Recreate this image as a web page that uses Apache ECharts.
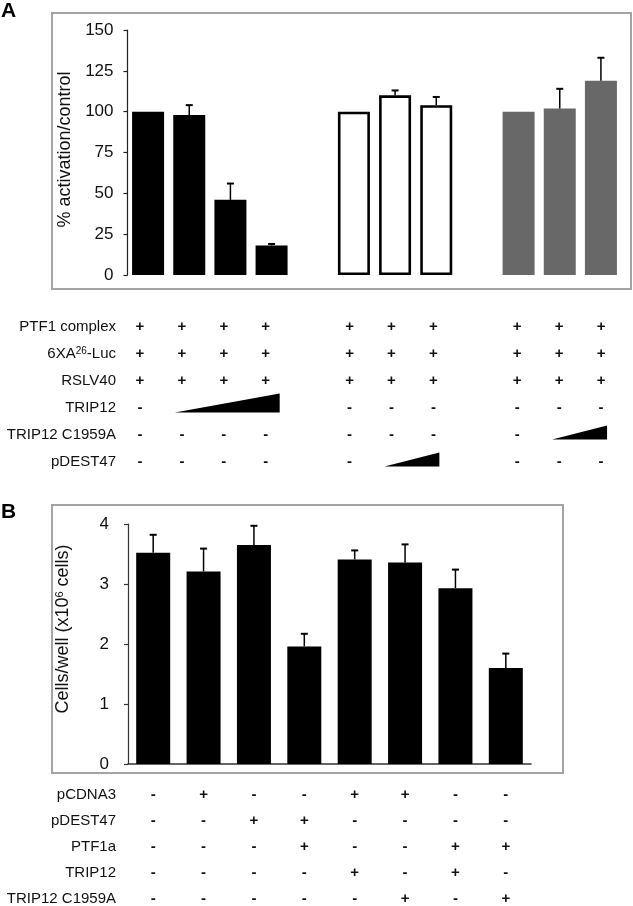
<!DOCTYPE html>
<html><head><meta charset="utf-8">
<script src="https://cdn.jsdelivr.net/npm/echarts@6/dist/echarts.min.js"></script>
<style>html,body{margin:0;padding:0;background:#fff}#c{width:633px;height:906px}</style>
</head><body><div id="c"></div>
<script>
// ---------------- Panel A data ----------------
const aCategories = ['T1','T2','T3','T4','', 'D1','D2','D3',' ', 'C1','C2','C3'];
const aTrip12Keys = ['T1','T2','T3','T4'];
const aTrip12 = [100, 98, 46, 18];
const aTrip12Err = [null, 104, 56, 19];
const aDest47Keys = ['D1','D2','D3'];
const aDest47 = [100, 110, 104];
const aDest47Err = [null, 113, 109];
const aC1959Keys = ['C1','C2','C3'];
const aC1959 = [100, 102, 119];
const aC1959Err = [null, 114, 133];
const aYMin = 0, aYMax = 150, aYStep = 25;
const aYName = '% activation/control';

const aRowNames = ['PTF1 complex', '6XA26-Luc', 'RSLV40', 'TRIP12', 'TRIP12 C1959A', 'pDEST47'];
const aRowPTF1    = ['+','+','+','+','', '+','+','+','', '+','+','+'];
const aRowLuc     = ['+','+','+','+','', '+','+','+','', '+','+','+'];
const aRowRSLV40  = ['+','+','+','+','', '+','+','+','', '+','+','+'];
const aRowTRIP12  = ['-','','','','', '-','-','-','', '-','-','-'];
const aRowC1959A  = ['-','-','-','-','', '-','-','-','', '-','',''];
const aRowDEST47  = ['-','-','-','-','', '-','','','', '-','-','-'];
const aWedgeRows  = ['TRIP12', 'pDEST47', 'TRIP12 C1959A'];
const aWedgeFrom  = ['T2', 'D2', 'C2'];
const aWedgeTo    = ['T4', 'D3', 'C3'];

// ---------------- Panel B data ----------------
const bCategories = ['1','2','3','4','5','6','7','8'];
const bValues = [3.52, 3.21, 3.65, 1.96, 3.41, 3.36, 2.93, 1.60];
const bErr    = [3.82, 3.59, 3.97, 2.17, 3.56, 3.66, 3.24, 1.84];
const bYMin = 0, bYMax = 4, bYStep = 1;
const bRowNames = ['pCDNA3', 'pDEST47', 'PTF1a', 'TRIP12', 'TRIP12 C1959A'];
const bRowPCDNA3 = ['-','+','-','-','+','+','-','-'];
const bRowDEST47 = ['-','-','+','+','-','-','-','-'];
const bRowPTF1a  = ['-','-','-','+','-','-','+','+'];
const bRowTRIP12 = ['-','-','-','-','+','-','+','-'];
const bRowC1959A = ['-','-','-','-','-','+','-','+'];

// ---------------- build ----------------
const FONT = '"Liberation Sans", Arial, sans-serif';
function place(keys, vals) {
  return aCategories.map(c => { const i = keys.indexOf(c); return i >= 0 ? vals[i] : null; });
}
function errData(keys, vals, errs) {
  const out = [];
  keys.forEach((k, i) => { if (errs[i] != null) out.push([aCategories.indexOf(k), vals[i], errs[i]]); });
  return out;
}
const aErrAll = [].concat(errData(aTrip12Keys, aTrip12, aTrip12Err),
                          errData(aDest47Keys, aDest47, aDest47Err),
                          errData(aC1959Keys, aC1959, aC1959Err));
const bErrAll = bValues.map((v, i) => [i, v, bErr[i]]);

const aRows = [aRowPTF1, aRowLuc, aRowRSLV40, aRowTRIP12, aRowC1959A, aRowDEST47];
const aCells = [];
aRows.forEach((row, r) => row.forEach((s, c) => { if (s) aCells.push([c, r, s]); }));
const bRows = [bRowPCDNA3, bRowDEST47, bRowPTF1a, bRowTRIP12, bRowC1959A];
const bCells = [];
bRows.forEach((row, r) => row.forEach((s, c) => { if (s) bCells.push([c, r, s]); }));
const wedges = aWedgeRows.map((rn, i) => [aCategories.indexOf(aWedgeFrom[i]), aCategories.indexOf(aWedgeTo[i]), aRowNames.indexOf(rn)]);

function errRender(params, api) {
  const x = api.value(0), v = api.value(1), e = api.value(2);
  const p0 = api.coord([x, v]), p1 = api.coord([x, e]);
  return {type: 'group', children: [
    {type: 'line', shape: {x1: p0[0], y1: p0[1], x2: p1[0], y2: p1[1]}, style: {stroke: '#000', lineWidth: 1.5}},
    {type: 'line', shape: {x1: p1[0] - 3.5, y1: p1[1], x2: p1[0] + 3.5, y2: p1[1]}, style: {stroke: '#000', lineWidth: 2}}
  ]};
}
function cellRender(cells) {
  return function (params, api) {
    const cell = cells[params.dataIndex];
    const p = api.coord([cell[0], cell[1]]);
    return {type: 'text', x: p[0], y: p[1], style: {text: cell[2], align: 'center', verticalAlign: 'middle',
      font: 'bold 15px ' + FONT, fill: '#111'}};
  };
}
function wedgeRender(params, api) {
  const w = wedges[params.dataIndex];
  const p0 = api.coord([w[0], w[2]]), p1 = api.coord([w[1], w[2]]);
  const span = w[1] - w[0];
  const h = 9 + 5 * span;
  const y0 = p0[1] + 5;
  const xl = p0[0] - 7, xr = p1[0] + 6 + 8 * (span - 1);
  return {type: 'polygon', shape: {points: [[xl, y0], [xr, y0], [xr, y0 - h]]}, style: {fill: '#000'}};
}
const labelFmt = v => v === '6XA26-Luc' ? '6XA{sup|26}-Luc' : v;
const rowLabelStyle = {fontSize: 15, fontFamily: FONT, color: '#111',
  rich: {sup: {fontSize: 10, fontFamily: FONT, color: '#111', verticalAlign: 'top', lineHeight: 14}}};

const chart = echarts.init(document.getElementById('c'));
chart.setOption({
  animation: false,
  backgroundColor: '#fff',
  grid: [
    {left: 127.5, top: 30, width: 494, height: 245, outerBoundsMode: 'none'},
    {left: 119, top: 313, width: 503, height: 162, outerBoundsMode: 'none'},
    {left: 128, top: 524, width: 403, height: 240, outerBoundsMode: 'none'},
    {left: 128, top: 782, width: 403, height: 130, outerBoundsMode: 'none'}
  ],
  xAxis: [
    {gridIndex: 0, type: 'category', data: aCategories, axisLine: {show: false}, axisTick: {show: false}, axisLabel: {show: false}},
    {gridIndex: 1, type: 'category', data: aCategories, show: false},
    {gridIndex: 2, type: 'category', data: bCategories, axisLine: {show: true, lineStyle: {color: '#333', width: 1.5}}, axisTick: {show: false}, axisLabel: {show: false}},
    {gridIndex: 3, type: 'category', data: bCategories, show: false}
  ],
  yAxis: [
    {gridIndex: 0, type: 'value', min: aYMin, max: aYMax, interval: aYStep,
      name: aYName, nameLocation: 'middle', nameRotate: 90, nameGap: 52,
      nameTextStyle: {fontSize: 18, fontFamily: FONT, color: '#111', padding: [0, 0, 0, 6]},
      axisLine: {show: true, lineStyle: {color: '#222', width: 1.2}},
      axisTick: {show: true, length: 4, lineStyle: {color: '#222', width: 1.2}},
      axisLabel: {fontSize: 17, fontFamily: FONT, color: '#111', margin: 14},
      splitLine: {show: false}},
    {gridIndex: 1, type: 'category', data: aRowNames, inverse: true,
      axisLine: {show: false}, axisTick: {show: false},
      axisLabel: Object.assign({margin: 3, formatter: labelFmt}, rowLabelStyle)},
    {gridIndex: 2, type: 'value', min: bYMin, max: bYMax, interval: bYStep,
      name: '{a|Cells/well (x10}{s|6}{a| cells)}', nameLocation: 'middle', nameRotate: 90, nameGap: 56,
      nameTextStyle: {fontSize: 18, fontFamily: FONT, color: '#111', padding: [0, 0, 0, 30],
        rich: {a: {fontSize: 18, fontFamily: FONT, color: '#111'}, s: {fontSize: 11, fontFamily: FONT, color: '#111', verticalAlign: 'top', lineHeight: 16}}},
      axisLine: {show: true, lineStyle: {color: '#333', width: 1.2}},
      axisTick: {show: true, length: 4, lineStyle: {color: '#333', width: 1.2}},
      axisLabel: {fontSize: 17, fontFamily: FONT, color: '#111', margin: 19},
      splitLine: {show: false}},
    {gridIndex: 3, type: 'category', data: bRowNames, inverse: true,
      axisLine: {show: false}, axisTick: {show: false},
      axisLabel: Object.assign({margin: 12}, rowLabelStyle)}
  ],
  series: [
    {type: 'bar', xAxisIndex: 0, yAxisIndex: 0, data: place(aTrip12Keys, aTrip12), barWidth: 32, barGap: '-100%',
      itemStyle: {color: '#000'}},
    {type: 'bar', xAxisIndex: 0, yAxisIndex: 0, data: place(aDest47Keys, aDest47), barWidth: 32, barGap: '-100%',
      itemStyle: {color: '#fff', borderColor: '#000', borderWidth: 2.6}},
    {type: 'bar', xAxisIndex: 0, yAxisIndex: 0, data: place(aC1959Keys, aC1959), barWidth: 32, barGap: '-100%',
      itemStyle: {color: '#686868'}},
    {type: 'custom', xAxisIndex: 0, yAxisIndex: 0, data: aErrAll, encode: {x: 0, y: [1, 2]}, renderItem: errRender, z: 5},
    {type: 'custom', xAxisIndex: 1, yAxisIndex: 1, data: aCells.map(c => [c[0], c[1]]), encode: {x: 0, y: 1}, renderItem: cellRender(aCells)},
    {type: 'custom', xAxisIndex: 1, yAxisIndex: 1, data: wedges.map(w => [w[0], w[2]]), encode: {x: 0, y: 1}, renderItem: wedgeRender},
    {type: 'bar', xAxisIndex: 2, yAxisIndex: 2, data: bValues, barWidth: 34, itemStyle: {color: '#000'}},
    {type: 'custom', xAxisIndex: 2, yAxisIndex: 2, data: bErrAll, encode: {x: 0, y: [1, 2]}, renderItem: errRender, z: 5},
    {type: 'custom', xAxisIndex: 3, yAxisIndex: 3, data: bCells.map(c => [c[0], c[1]]), encode: {x: 0, y: 1}, renderItem: cellRender(bCells)}
  ],
  graphic: [
    {type: 'rect', shape: {x: 52, y: 13, width: 579, height: 276}, style: {fill: 'none', stroke: '#a4a4a4', lineWidth: 2}, silent: true},
    {type: 'rect', shape: {x: 52, y: 505, width: 511, height: 268}, style: {fill: 'none', stroke: '#a4a4a4', lineWidth: 2}, silent: true},
    {type: 'text', left: 1, top: 1, style: {text: 'A', font: 'bold 21px ' + FONT, fill: '#000'}},
    {type: 'text', left: 1, top: 502, style: {text: 'B', font: 'bold 21px ' + FONT, fill: '#000'}}
  ]
});
</script>
</body></html>
